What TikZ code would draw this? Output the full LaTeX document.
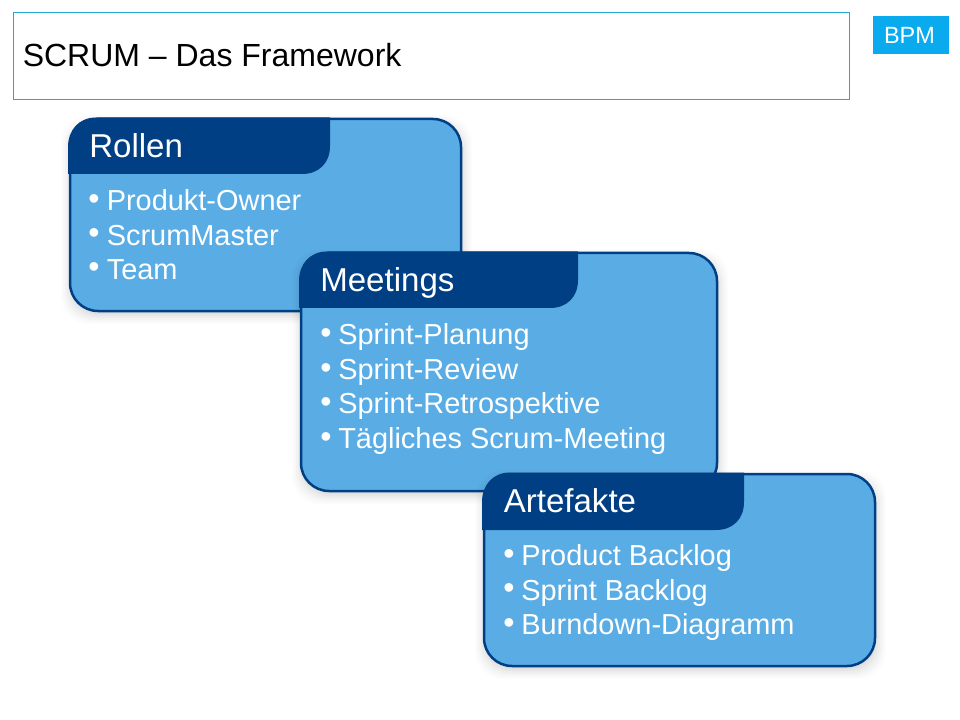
\documentclass[tikz,border=0pt]{standalone}
\usepackage{fontspec}
\setmainfont{Liberation Sans}
\definecolor{cardfill}{HTML}{5AADE4}
\definecolor{carddark}{HTML}{003F84}
\definecolor{framecol}{HTML}{22A9D0}
\definecolor{tagcol}{HTML}{0AAAEE}
\tikzset{
  cardbody/.style={draw=carddark,line width=2.5pt*0.75,fill=cardfill},
  cardhead/.style={fill=carddark},
  headtext/.style={anchor=base west,inner sep=0pt,text=white,font=\fontsize{24.8}{28}\selectfont},
  itemtext/.style={anchor=base west,inner sep=0pt,text=white,font=\fontsize{21.7}{26}\selectfont},
  bullettext/.style={anchor=base,inner sep=0pt,text=white,font=\fontsize{24}{26}\selectfont}
}
% #1 left #2 top #3 right #4 bottom #5 head left #6 head right #7 head bottom
\newcommand{\cardshape}[7]{%
  \foreach \s/\o in {10/0.012,8/0.015,6/0.018,4/0.022,2/0.026,0/0.03}{%
    \fill[black,opacity=\o,rounded corners=28*0.75pt]
      (#1-\s+1,#2+6-\s) rectangle (#3+\s+1,#4+\s+3);}
  \path[cardbody,rounded corners=28*0.75pt] (#1,#2) rectangle (#3,#4);
  \fill[cardhead] (#5,#7) -- (#5,#2+28)
    .. controls (#5,#2+11) and (#5+11,#2-1.5) .. (#5+28,#2-1.5)
    -- (#6,#2-1.5) -- (#6,#7-28)
    .. controls (#6,#7-11) and (#6-11,#7) .. (#6-28,#7) -- cycle;}
\newcommand{\carditem}[5]{% name, bullet x, text x, baseline, text
  \node[bullettext] (#1b) at (#2,#4-1.5) {•};
  \node[itemtext] (#1) at (#3,#4) {#5};}
\begin{document}
\begin{tikzpicture}[x=0.75pt,y=-0.75pt]
\useasboundingbox (0,0) rectangle (960,720);
\node[draw=framecol,line width=0.75pt,rectangle,minimum width=836*0.75pt,minimum height=87*0.75pt,anchor=north west,inner sep=0pt] (titlebox) at (13,12) {};
\node[anchor=base west,inner sep=0pt,font=\fontsize{24}{28}\selectfont] (title) at (22.5,66.5) {SCRUM – Das Framework};
\node[fill=tagcol,minimum width=76*0.75pt,minimum height=38*0.75pt,anchor=north west,inner sep=0pt] (tag) at (873,16) {};
\node[anchor=base,inner sep=0pt,text=white,font=\fontsize{17.6}{20}\selectfont] (tagtext) at (909.5,44) {BPM};

\cardshape{70}{119}{461}{311}{68}{330}{174}
\node[headtext] (rollen) at (89,158) {Rollen};
\carditem{r1}{94}{106.5}{211}{Produkt-Owner}
\carditem{r2}{94}{106.5}{245.5}{ScrumMaster}
\carditem{r3}{94}{106.5}{279.5}{Team}

\cardshape{301}{253}{717}{491}{299}{578}{308}
\node[headtext] (meetings) at (320,291.5) {Meetings};
\carditem{m1}{326}{338}{344.5}{Sprint-Planung}
\carditem{m2}{326}{338}{379.5}{Sprint-Review}
\carditem{m3}{326}{338}{413.5}{Sprint-Retrospektive}
\carditem{m4}{326}{338}{448.5}{Tägliches Scrum-Meeting}

\cardshape{484}{474}{875}{666}{482}{744}{530}
\node[headtext] (artefakte) at (503.5,512.5) {Artefakte};
\carditem{a1}{509}{521}{565.5}{Product Backlog}
\carditem{a2}{509}{521}{600}{Sprint Backlog}
\carditem{a3}{509}{521}{634.5}{Burndown-Diagramm}
\end{tikzpicture}
\end{document}
